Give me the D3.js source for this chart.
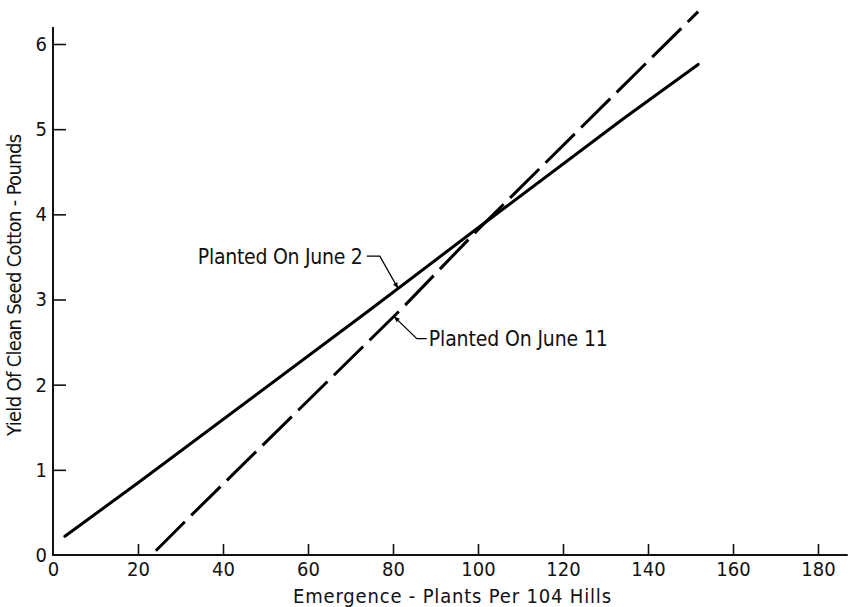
<!DOCTYPE html>
<html>
<head>
<meta charset="utf-8">
<script src="https://cdn.jsdelivr.net/npm/d3@7/dist/d3.min.js"></script>
<style>
  html, body { margin: 0; padding: 0; background: #fff; }
  svg { display: block; }
  text { font-family: "Liberation Sans Narrow", "DejaVu Sans Condensed", "DejaVu Sans", sans-serif; fill: #111; }
</style>
</head>
<body>
<svg id="chart" width="853" height="607"></svg>
<script>
// ---- data ----
const xTicks = [0, 20, 40, 60, 80, 100, 120, 140, 160, 180];
const yTicks = [0, 1, 2, 3, 4, 5, 6];
const xTitle = "Emergence - Plants Per 104 Hills";
const yTitle = "Yield Of Clean Seed Cotton - Pounds";

// Planted on June 2 (solid)
const june2X = [2.8, 20.9, 74.6, 100.5, 134.1, 151.8];
const june2Y = [0.22, 0.88, 2.88, 3.86, 5.12, 5.76];
// Planted on June 11 (dashed)
const june11X = [24.2, 32.0, 82.4, 100.0, 151.8];
const june11Y = [0.05, 0.44, 2.91, 3.82, 6.38];

// annotations: label, arrow target x (on its line), elbow point (data units)
const annLabels = ["Planted On June 2", "Planted On June 11"];
const annTargetX = [81.2, 80.2];
const annElbowX = [76.9, 85.6];
const annElbowY = [3.51, 2.54];

// ---- drawing ----
const svg = d3.select("#chart");
svg.append("rect").attr("width", 853).attr("height", 607).attr("fill", "#fff");

const x = d3.scaleLinear().domain([0, 180]).range([53, 818]);
const y = d3.scaleLinear().domain([0, 6]).range([555, 44]);
const xMaxLine = 187;
const yMaxLine = 6.2;

const fontTick = 20;

// X axis
const gx = svg.append("g").attr("transform", `translate(0,${y(0)})`)
  .call(d3.axisBottom(x).tickValues(xTicks).tickFormat(d3.format("d"))
        .tickSizeInner(-11).tickSizeOuter(0).tickPadding(7));
gx.select(".domain").remove();
gx.selectAll(".tick line").attr("stroke", "#111").attr("stroke-width", 1.6);
gx.selectAll(".tick").filter(d => d === 0).select("line").remove();
gx.selectAll(".tick text").attr("font-size", fontTick).attr("fill", "#111")
  .style("font-family", '"Liberation Sans Narrow", "DejaVu Sans Condensed", sans-serif');
svg.append("line").attr("x1", x(0)).attr("x2", x(xMaxLine))
  .attr("y1", y(0)).attr("y2", y(0)).attr("stroke", "#111").attr("stroke-width", 2);

// Y axis
const gy = svg.append("g").attr("transform", `translate(${x(0)},0)`)
  .call(d3.axisLeft(y).tickValues(yTicks).tickFormat(d3.format("d"))
        .tickSizeInner(-13).tickSizeOuter(0).tickPadding(6));
gy.select(".domain").remove();
gy.selectAll(".tick line").attr("stroke", "#111").attr("stroke-width", 1.6);
gy.selectAll(".tick").filter(d => d === 0).select("line").remove();
gy.selectAll(".tick text").attr("font-size", fontTick).attr("fill", "#111")
  .style("font-family", '"Liberation Sans Narrow", "DejaVu Sans Condensed", sans-serif');
svg.append("line").attr("x1", x(0)).attr("x2", x(0))
  .attr("y1", y(0) + 1).attr("y2", y(yMaxLine)).attr("stroke", "#111").attr("stroke-width", 2);

// Titles
svg.append("text").attr("x", 452).attr("y", 603)
  .attr("text-anchor", "middle").attr("font-size", 20)
  .attr("textLength", 318).attr("lengthAdjust", "spacing")
  .text(xTitle);
svg.append("text")
  .attr("transform", `translate(21,${(y(0) + y(yMaxLine)) / 2 - 6}) rotate(-90)`)
  .attr("text-anchor", "middle").attr("font-size", 20)
  .attr("textLength", 302).attr("lengthAdjust", "spacing")
  .text(yTitle);

// Lines
const line = d3.line().x(d => x(d[0])).y(d => y(d[1]));
const june2 = june2X.map((v, i) => [v, june2Y[i]]);
const june11 = june11X.map((v, i) => [v, june11Y[i]]);

svg.append("path").datum(june2).attr("d", line)
  .attr("fill", "none").attr("stroke", "#000").attr("stroke-width", 3)
  .attr("stroke-linecap", "round").attr("stroke-linejoin", "round");
svg.append("path").datum(june11).attr("d", line)
  .attr("fill", "none").attr("stroke", "#000").attr("stroke-width", 3)
  .attr("stroke-dasharray", "41,9").attr("stroke-linecap", "butt");

// Arrow marker
svg.append("defs").append("marker")
  .attr("id", "arrow").attr("viewBox", "0 0 10 10")
  .attr("refX", 10).attr("refY", 5)
  .attr("markerWidth", 9).attr("markerHeight", 6)
  .attr("markerUnits", "userSpaceOnUse")
  .attr("orient", "auto")
  .append("path").attr("d", "M0,1 L10,5 L0,9 Z").attr("fill", "#000");

// interpolate y on a polyline at a given x
function yAt(pts, xv) {
  for (let i = 0; i < pts.length - 1; i++) {
    if (xv >= pts[i][0] && xv <= pts[i + 1][0]) {
      const t = (xv - pts[i][0]) / (pts[i + 1][0] - pts[i][0]);
      return pts[i][1] + t * (pts[i + 1][1] - pts[i][1]);
    }
  }
  return pts[pts.length - 1][1];
}

const series = [june2, june11];
annLabels.forEach((lab, i) => {
  const tx = x(annTargetX[i]);
  const ty = y(yAt(series[i], annTargetX[i]));
  const ex = x(annElbowX[i]);
  const ey = y(annElbowY[i]);
  const leftSide = i === 0;
  const hx = leftSide ? ex - 13 : ex + 10;
  svg.append("path")
    .attr("d", `M${hx},${ey} L${ex},${ey} L${tx},${ty}`)
    .attr("fill", "none").attr("stroke", "#000").attr("stroke-width", 1.3)
    .attr("marker-end", "url(#arrow)");
  const t = svg.append("text")
    .attr("y", ey + 7.5).attr("font-size", 21)
    .attr("lengthAdjust", "spacing")
    .text(lab);
  if (leftSide) {
    t.attr("x", hx - 169).attr("textLength", 165);
  } else {
    t.attr("x", hx + 2).attr("textLength", 179);
  }
});
</script>
</body>
</html>
